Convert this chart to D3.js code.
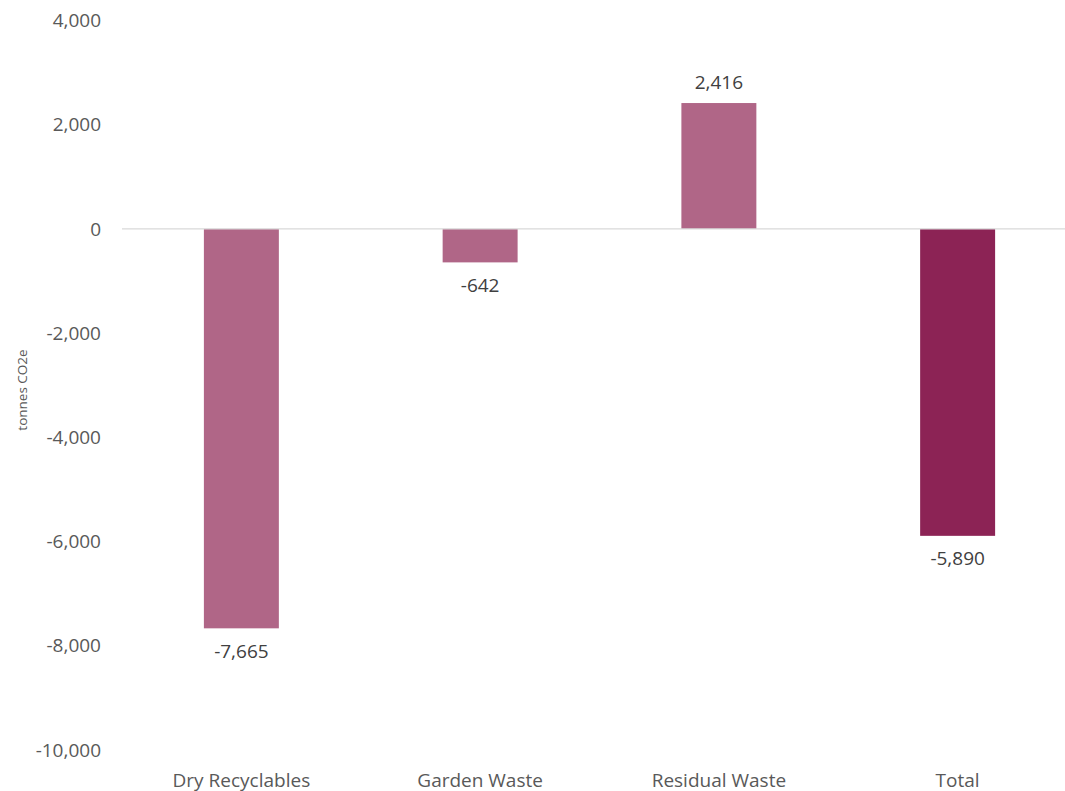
<!DOCTYPE html>
<html>
<head>
<meta charset="utf-8">
<script src="https://cdn.jsdelivr.net/npm/d3@7"></script>
<style>
  html, body { margin: 0; padding: 0; background: #ffffff; }
  svg { display: block; font-family: "Open Sans", "Liberation Sans", sans-serif; }
</style>
</head>
<body>
<svg id="chart" width="1065" height="791"></svg>
<script>
// Net emissions by waste stream (tonnes CO2e)
const categories = ["Dry Recyclables", "Garden Waste", "Residual Waste", "Total"];
const values = [-7665, -642, 2416, -5890];
const barColors = ["#b06687", "#b06687", "#b06687", "#8c2355"];
const yTicks = [4000, 2000, 0, -2000, -4000, -6000, -8000, -10000];
const yAxisTitle = "tonnes CO2e";

const svg = d3.select("#chart");
// thousands separator with a plain hyphen for negatives
const fmt = d => d3.format(",")(d).replace("\u2212", "-");

const x = d3.scaleBand()
  .domain(categories)
  .range([122, 1077])
  .paddingInner(0.686)
  .paddingOuter(0.343);

const y = d3.scaleLinear()
  .domain([-10000, 4000])
  .range([750, 20.5]);

// y axis tick labels
svg.append("g")
  .selectAll("text")
  .data(yTicks)
  .join("text")
  .attr("x", 101)
  .attr("y", d => y(d))
  .attr("dy", "0.35em")
  .attr("text-anchor", "end")
  .attr("fill", "#595959")
  .attr("font-size", 19)
  .text(d => fmt(d));

// axis title
svg.append("text")
  .attr("transform", "translate(22,390) rotate(-90)")
  .attr("text-anchor", "middle")
  .attr("dy", "0.35em")
  .attr("fill", "#595959")
  .attr("font-size", 13.5)
  .text(yAxisTitle);

// bars
svg.append("g")
  .selectAll("rect")
  .data(values)
  .join("rect")
  .attr("x", (d, i) => x(categories[i]))
  .attr("width", x.bandwidth())
  .attr("y", d => y(Math.max(0, d)))
  .attr("height", d => Math.abs(y(d) - y(0)))
  .attr("fill", (d, i) => barColors[i]);

// zero line
svg.append("line")
  .attr("x1", 122)
  .attr("x2", 1077)
  .attr("y1", y(0))
  .attr("y2", y(0))
  .attr("stroke", "#d9d9d9")
  .attr("stroke-width", 1.3);

// value labels
svg.append("g")
  .selectAll("text")
  .data(values)
  .join("text")
  .attr("x", (d, i) => x(categories[i]) + x.bandwidth() / 2)
  .attr("y", d => d >= 0 ? y(d) - 21 : y(d) + 23)
  .attr("dy", "0.35em")
  .attr("text-anchor", "middle")
  .attr("fill", "#404040")
  .attr("font-size", 19)
  .text(d => fmt(d));

// category labels
svg.append("g")
  .selectAll("text")
  .data(categories)
  .join("text")
  .attr("x", d => x(d) + x.bandwidth() / 2)
  .attr("y", 780)
  .attr("dy", "0.35em")
  .attr("text-anchor", "middle")
  .attr("fill", "#595959")
  .attr("font-size", 19)
  .text(d => d);
</script>
</body>
</html>
